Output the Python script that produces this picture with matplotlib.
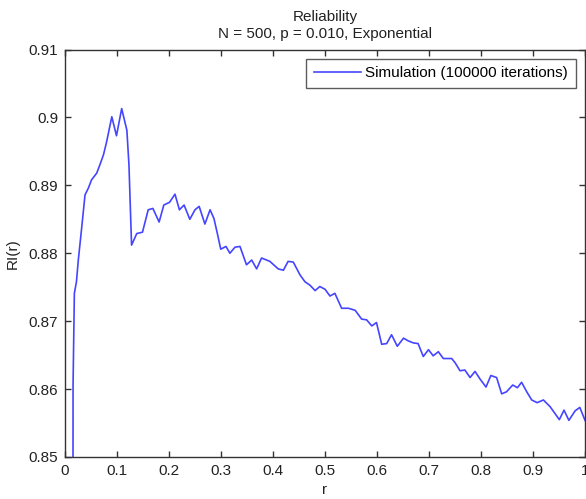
import matplotlib
matplotlib.use("Agg")
import matplotlib.pyplot as plt

plt.rcParams['font.family'] = ['Liberation Sans', 'DejaVu Sans']

# Simulated reliability RI(r) over the radius r
r_values = [0.015, 0.0155, 0.018, 0.022, 0.0256, 0.032, 0.0385, 0.045, 0.051, 0.061,
            0.067, 0.074, 0.080, 0.090, 0.099, 0.109, 0.119, 0.123, 0.128, 0.138,
            0.149, 0.160, 0.169, 0.181, 0.190, 0.201, 0.2115, 0.220, 0.229, 0.240,
            0.250, 0.258, 0.269, 0.279, 0.2865, 0.293, 0.2995, 0.3096, 0.317, 0.327,
            0.3365, 0.349, 0.359, 0.3685, 0.378, 0.394, 0.410, 0.420, 0.429, 0.439,
            0.452, 0.4615, 0.471, 0.481, 0.490, 0.500, 0.5096, 0.519, 0.532, 0.545,
            0.558, 0.5705, 0.580, 0.590, 0.599, 0.609, 0.6186, 0.628, 0.639, 0.651,
            0.660, 0.670, 0.679, 0.689, 0.699, 0.708, 0.718, 0.7275, 0.7435, 0.750,
            0.7596, 0.769, 0.779, 0.7885, 0.798, 0.8096, 0.819, 0.830, 0.8398, 0.849,
            0.861, 0.870, 0.878, 0.888, 0.8975, 0.908, 0.920, 0.933, 0.9506, 0.9596,
            0.969, 0.981, 0.990, 1.0]
ri_values = [0.800, 0.8606, 0.8741, 0.8758, 0.8790, 0.8837, 0.8886, 0.8896, 0.8908, 0.8918,
             0.8930, 0.8945, 0.8964, 0.9001, 0.8973, 0.9013, 0.8981, 0.8930, 0.8812, 0.8829,
             0.8831, 0.8864, 0.8866, 0.8846, 0.8871, 0.8875, 0.8887, 0.8864, 0.8871, 0.8850,
             0.8864, 0.8869, 0.8843, 0.8864, 0.8851, 0.8829, 0.8806, 0.8810, 0.8800, 0.8809,
             0.8810, 0.8783, 0.8790, 0.8777, 0.8793, 0.8788, 0.8777, 0.8775, 0.8788, 0.8787,
             0.8768, 0.8758, 0.8753, 0.8745, 0.8751, 0.8747, 0.8737, 0.8741, 0.8719, 0.8719,
             0.8716, 0.8703, 0.8702, 0.8693, 0.8698, 0.8666, 0.8667, 0.8680, 0.8663, 0.8675,
             0.8671, 0.8668, 0.8667, 0.8648, 0.8658, 0.8649, 0.8655, 0.8645, 0.8645, 0.8639,
             0.8627, 0.8628, 0.8617, 0.8626, 0.8615, 0.8603, 0.8620, 0.8617, 0.8593, 0.8596,
             0.8606, 0.8602, 0.8610, 0.8596, 0.8584, 0.8580, 0.8584, 0.8574, 0.8555, 0.8569,
             0.8554, 0.8568, 0.8573, 0.8554]

x_ticks = [0, 0.1, 0.2, 0.3, 0.4, 0.5, 0.6, 0.7, 0.8, 0.9, 1]
x_tick_labels = ['0', '0.1', '0.2', '0.3', '0.4', '0.5', '0.6', '0.7', '0.8', '0.9', '1']
y_ticks = [0.85, 0.86, 0.87, 0.88, 0.89, 0.90, 0.91]
y_tick_labels = ['0.85', '0.86', '0.87', '0.88', '0.89', '0.9', '0.91']

fs = 11
fig = plt.figure(figsize=(5.86, 4.99), dpi=100)
ax = fig.add_axes([65 / 586, 1 - 457 / 499, 520 / 586, 407.5 / 499])

ax.plot(r_values, ri_values, color=(0.27, 0.27, 1.0), linewidth=1.2,
        label='Simulation (100000 iterations)')

ax.set_xlim(0, 1)
ax.set_ylim(0.85, 0.91)
ax.set_xticks(x_ticks)
ax.set_xticklabels(x_tick_labels)
ax.set_yticks(y_ticks)
ax.set_yticklabels(y_tick_labels)

edge = '#333333'
for s in ax.spines.values():
    s.set_color(edge)
    s.set_linewidth(1.0)
ax.tick_params(direction='in', length=4, width=1, colors=edge, labelcolor='#222222',
               labelsize=fs, top=True, right=True, pad=5)

ax.set_xlabel('r', fontsize=fs, color='#222222', labelpad=4)
ax.set_ylabel('RI(r)', fontsize=fs, color='#222222', labelpad=6)
ax.set_title('Reliability\nN = 500, p = 0.010, Exponential', fontsize=fs,
             color='#222222', pad=8, linespacing=1.35)

leg = ax.legend(loc='upper right', fontsize=fs, frameon=True, fancybox=False,
                borderaxespad=0.6, handlelength=3.1, handletextpad=0.3,
                borderpad=0.5)
leg.get_frame().set_edgecolor(edge)
leg.get_frame().set_linewidth(1.0)

fig.savefig('out.png', dpi=100)
